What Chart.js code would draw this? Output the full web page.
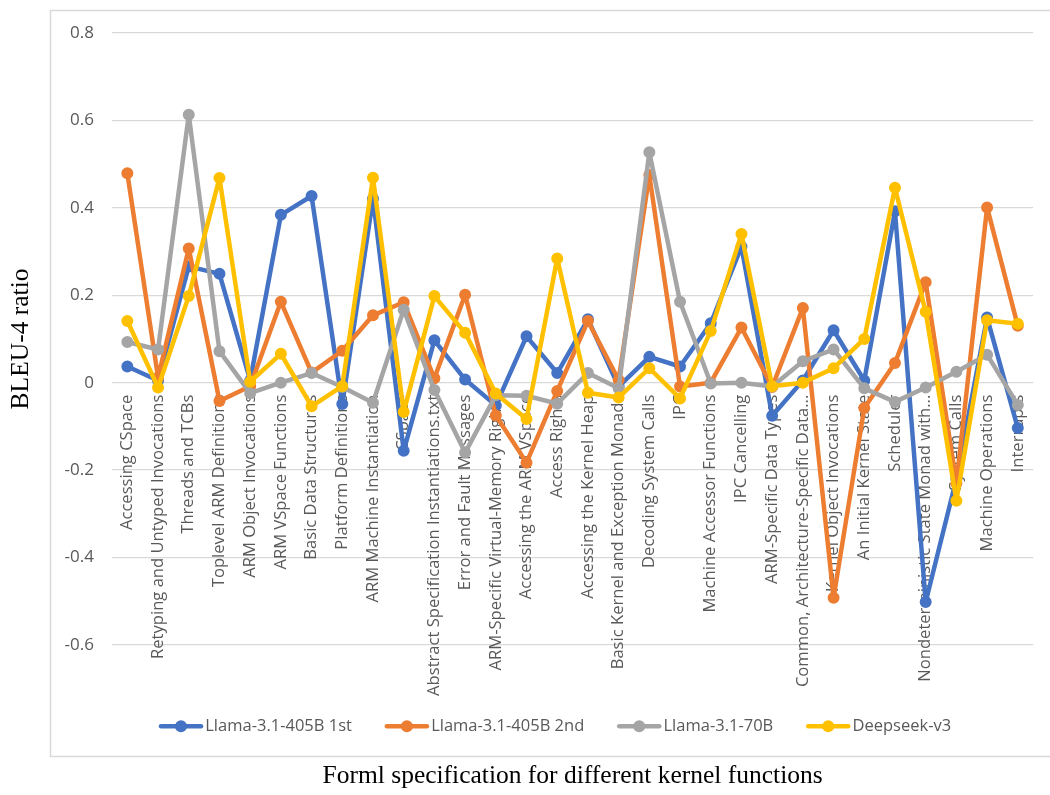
<!DOCTYPE html>
<html>
<head>
<meta charset="utf-8">
<title>BLEU-4 ratio by kernel function</title>
<script src="https://cdn.jsdelivr.net/npm/chart.js@4/dist/chart.umd.min.js"></script>
<style>
  html, body { margin: 0; padding: 0; background: #ffffff; }
  #wrap { width: 1050px; height: 795px; position: relative; }
</style>
</head>
<body>
<div id="wrap"><canvas id="chart" width="1050" height="795"></canvas></div>
<script>
// Kernel functions (one category per formal specification section)
const categories = [
  'Accessing CSpace',
  'Retyping and Untyped Invocations',
  'Threads and TCBs',
  'Toplevel ARM Definitions',
  'ARM Object Invocations',
  'ARM VSpace Functions',
  'Basic Data Structures',
  'Platform Definitions',
  'ARM Machine Instantiation',
  'CSpace',
  'Abstract Specification Instantiations.txt',
  'Error and Fault Messages',
  'ARM-Specific Virtual-Memory Rights',
  'Accessing the ARM VSpace',
  'Access Rights',
  'Accessing the Kernel Heap',
  'Basic Kernel and Exception Monads',
  'Decoding System Calls',
  'IPC',
  'Machine Accessor Functions',
  'IPC Cancelling',
  'ARM-Specific Data Types',
  'Common, Architecture-Specific Data...',
  'Kernel Object Invocations',
  'An Initial Kernel State',
  'Scheduler',
  'Nondeterministic State Monad with...',
  'System Calls',
  'Machine Operations',
  'Interrupts'
];

const seriesNames = ['Llama-3.1-405B 1st', 'Llama-3.1-405B 2nd', 'Llama-3.1-70B', 'Deepseek-v3'];
const seriesColors = ['#4472C4', '#ED7D31', '#A5A5A5', '#FFC000'];

const llama405First = [
  0.037, 0.005, 0.266, 0.249, 0.005, 0.384, 0.427, -0.049, 0.421, -0.156,
  0.097, 0.007, -0.052, 0.106, 0.022, 0.145, -0.009, 0.059, 0.037, 0.136,
  0.311, -0.076, 0.005, 0.120, 0.005, 0.392, -0.502, -0.220, 0.149, -0.104
];
const llama405Second = [
  0.479, 0.012, 0.307, -0.042, -0.008, 0.185, 0.023, 0.073, 0.154, 0.184,
  0.010, 0.201, -0.075, -0.183, -0.019, 0.141, 0.006, 0.475, -0.009, 0.000,
  0.126, -0.010, 0.171, -0.492, -0.058, 0.045, 0.230, -0.230, 0.401, 0.130
];
const llama70 = [
  0.093, 0.076, 0.613, 0.072, -0.024, 0.000, 0.022, -0.010, -0.046, 0.167,
  -0.017, -0.160, -0.029, -0.030, -0.048, 0.022, -0.013, 0.527, 0.185, -0.002,
  0.000, -0.009, 0.049, 0.076, -0.013, -0.044, -0.011, 0.025, 0.064, -0.051
];
const deepseekV3 = [
  0.141, -0.011, 0.198, 0.468, 0.002, 0.066, -0.054, -0.008, 0.469, -0.067,
  0.198, 0.114, -0.025, -0.083, 0.284, -0.023, -0.034, 0.033, -0.036, 0.118,
  0.340, -0.008, 0.000, 0.033, 0.100, 0.446, 0.162, -0.270, 0.143, 0.135
];

const yTicks = [-0.6, -0.4, -0.2, 0, 0.2, 0.4, 0.6, 0.8];
const yTickLabels = ['-0.6', '-0.4', '-0.2', '0', '0.2', '0.4', '0.6', '0.8'];

const seriesValues = [llama405First, llama405Second, llama70, deepseekV3];

// Later series are painted on top of earlier ones
const datasets = seriesValues.map((values, i) => ({
  label: seriesNames[i],
  data: values,
  borderColor: seriesColors[i],
  backgroundColor: seriesColors[i],
  pointBackgroundColor: seriesColors[i],
  pointBorderColor: seriesColors[i],
  borderWidth: 4.5,
  pointRadius: 5,
  pointBorderWidth: 2,
  pointHoverRadius: 5,
  tension: 0,
  borderJoinStyle: 'round',
  borderCapStyle: 'round',
  fill: false,
  order: seriesValues.length - i
}));

const AXIS_GREY = '#595959';
const LEGEND_LEFT = 159;
const LEGEND_DROP = 40;

// White page plus the light chart border
const framePlugin = {
  id: 'frame',
  beforeDraw(chart) {
    const ctx = chart.ctx;
    ctx.save();
    ctx.fillStyle = '#ffffff';
    ctx.fillRect(0, 0, chart.width, chart.height);
    ctx.strokeStyle = '#D9D9D9';
    ctx.lineWidth = 1.5;
    ctx.strokeRect(50.5, 10.5, 1100, 746);
    ctx.restore();
  }
};

// Place the legend row below the plot, starting near the left
const legendPlacePlugin = {
  id: 'legendPlace',
  afterLayout(chart) {
    const lg = chart.legend;
    if (!lg) return;
    const pad = lg.options.labels.padding;
    const dx = LEGEND_LEFT - (lg.left + pad);
    lg.left += dx;
    lg.right += dx;
    lg.top += LEGEND_DROP;
    lg.bottom += LEGEND_DROP;
  }
};

// Line-with-marker swatches for the legend entries
const legendSwatchPlugin = {
  id: 'legendSwatch',
  afterDraw(chart) {
    const lg = chart.legend;
    if (!lg || !lg.legendHitBoxes) return;
    const ctx = chart.ctx;
    lg.legendHitBoxes.forEach((hb, i) => {
      const item = lg.legendItems[i];
      const color = chart.data.datasets[item.datasetIndex].borderColor;
      const cy = hb.top + hb.height / 2;
      ctx.save();
      ctx.strokeStyle = color;
      ctx.lineWidth = 4.5;
      ctx.lineCap = 'round';
      ctx.beginPath();
      ctx.moveTo(hb.left + 2, cy);
      ctx.lineTo(hb.left + 42, cy);
      ctx.stroke();
      ctx.fillStyle = color;
      ctx.beginPath();
      ctx.arc(hb.left + 22, cy, 6, 0, Math.PI * 2);
      ctx.fill();
      ctx.restore();
    });
  }
};

new Chart(document.getElementById('chart'), {
  type: 'line',
  data: { labels: categories, datasets },
  options: {
    responsive: false,
    animation: false,
    devicePixelRatio: 1,
    layout: { padding: { left: 0, right: 11, top: 33, bottom: 0 } },
    scales: {
      x: {
        type: 'category',
        offset: true,
        position: { y: 0 },
        z: 1,
        grid: { display: false, drawTicks: false },
        border: { display: false },
        ticks: {
          autoSkip: false,
          minRotation: 90,
          maxRotation: 90,
          padding: 12,
          color: AXIS_GREY,
          font: { family: 'Open Sans', size: 16.6 }
        }
      },
      y: {
        min: -0.6,
        max: 0.8,
        afterBuildTicks(scale) {
          scale.ticks = yTicks.map(v => ({ value: v }));
        },
        afterFit(scale) {
          scale.width = 112;
        },
        grid: { color: '#D9D9D9', lineWidth: 1.3, drawTicks: false },
        border: { display: false },
        ticks: {
          padding: 18,
          color: AXIS_GREY,
          font: { family: 'Open Sans', size: 17 },
          callback(value) {
            const k = yTicks.indexOf(value);
            return k >= 0 ? yTickLabels[k] : '';
          }
        },
        title: {
          display: true,
          text: 'BLEU-4 ratio',
          color: '#000000',
          font: { family: 'Liberation Serif', size: 25.5, weight: 'normal' },
          padding: { top: 6, bottom: 0 }
        }
      }
    },
    plugins: {
      legend: {
        display: true,
        position: 'bottom',
        align: 'start',
        labels: {
          boxWidth: 38,
          boxHeight: 16,
          padding: 33,
          color: AXIS_GREY,
          font: { family: 'Open Sans', size: 16.5 },
          sort: (a, b) => a.datasetIndex - b.datasetIndex,
          generateLabels(chart) {
            const items = Chart.defaults.plugins.legend.labels.generateLabels(chart);
            items.forEach(it => {
              it.fillStyle = 'rgba(0,0,0,0)';
              it.strokeStyle = 'rgba(0,0,0,0)';
              it.lineWidth = 0;
            });
            return items;
          }
        }
      },
      title: {
        display: true,
        position: 'bottom',
        fullSize: false,
        text: 'Forml specification for different kernel functions',
        color: '#000000',
        font: { family: 'Liberation Serif', size: 25.5, weight: 'normal' },
        padding: { top: 57, bottom: 3 }
      },
      tooltip: { enabled: false }
    }
  },
  plugins: [framePlugin, legendPlacePlugin, legendSwatchPlugin]
});
</script>
</body>
</html>
